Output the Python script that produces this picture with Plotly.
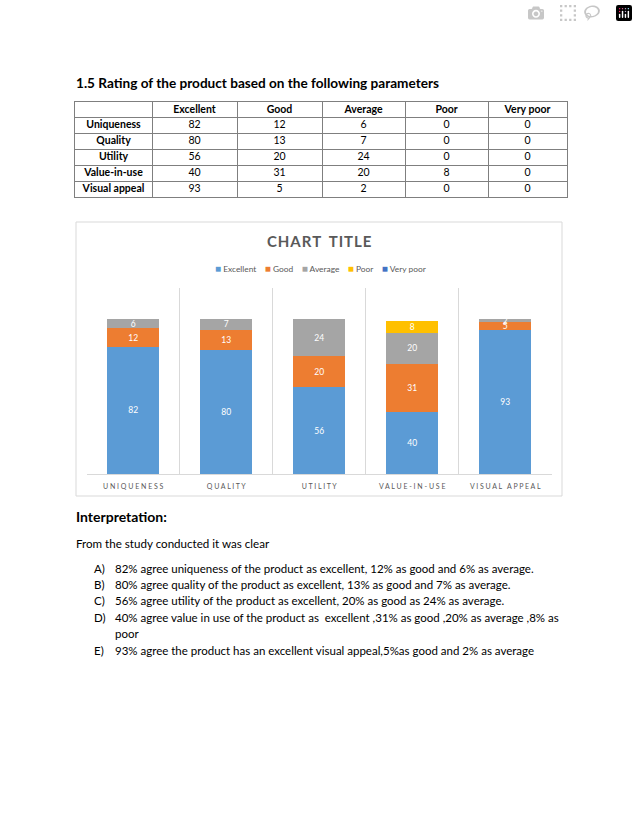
import plotly.graph_objects as go

# ---------------- data ----------------
categories = ["Uniqueness", "Quality", "Utility", "Value-in-use", "Visual appeal"]
series_names = ["Excellent", "Good", "Average", "Poor", "Very poor"]
excellent = [82, 80, 56, 40, 93]
good = [12, 13, 20, 31, 5]
average = [6, 7, 24, 20, 2]
poor = [0, 0, 0, 8, 0]
very_poor = [0, 0, 0, 0, 0]
tick_labels = ["U N I Q U E N E S S", "Q U A L I T Y", "U T I L I T Y",
               "V A L U E - I N - U S E", "V I S U A L   A P P E A L"]
series_colors = ["#5B9BD5", "#ED7D31", "#A5A5A5", "#FFC000", "#4472C4"]
table_col_widths = [77, 85, 85, 83, 83, 79]
chart_title = "CHART TITLE"

series_values = [excellent, good, average, poor, very_poor]

W, H = 638, 826
FONT = "Lato"


def px(x):
    return x / W


def py(y):
    return 1 - y / H


fig = go.Figure()

# ---------------- table (drawn on its own axes) ----------------
bounds = [0]
for w in table_col_widths:
    bounds.append(bounds[-1] + w)
centers = [(bounds[i] + bounds[i + 1]) / 2 for i in range(len(table_col_widths))]
n_rows = len(categories) + 1
row_centers = [r + 0.5 for r in range(n_rows)]

table_cols = [[""] + [f"<b>{c}</b>" for c in categories]]
for name, vals in zip(series_names, series_values):
    table_cols.append([f"<b>{name}</b>"] + [str(v) for v in vals])

for cx, col in zip(centers, table_cols):
    fig.add_trace(go.Scatter(
        x=[cx] * n_rows, y=row_centers, text=col, mode="text",
        textposition="middle center",
        textfont=dict(family=FONT, size=10.5, color="#000000"),
        xaxis="x2", yaxis="y2", showlegend=False, hoverinfo="skip",
    ))

# ---------------- stacked bars ----------------
for name, vals, col in zip(series_names, series_values, series_colors):
    fig.add_trace(go.Bar(
        x=categories, y=vals, name=name, marker=dict(color=col, line=dict(width=0)),
        text=[str(v) if v else "" for v in vals],
        textposition="inside", insidetextanchor="middle", constraintext="none",
        textangle=0, textfont=dict(family=FONT, size=8.5, color="white"),
        xaxis="x", yaxis="y", showlegend=False, hoverinfo="skip",
    ))

TABLE_LINE = "#7F7F7F"
fig.update_layout(
    width=W, height=H, margin=dict(l=0, r=0, t=0, b=0),
    paper_bgcolor="white", plot_bgcolor="white",
    barmode="stack", bargap=0.44,
    font=dict(family=FONT, color="#000000"),
    xaxis=dict(domain=[px(86.7), px(551.7)], type="category",
               tickvals=categories, ticktext=tick_labels, tickson="boundaries",
               showgrid=True, gridcolor="#D9D9D9", gridwidth=1,
               showline=True, linecolor="#D9D9D9", linewidth=1, ticks="",
               ticklabelstandoff=6,
               tickfont=dict(family=FONT, size=7, color="#595959"), fixedrange=True),
    yaxis=dict(domain=[py(474), py(288)], range=[0, 120], showgrid=False,
               showticklabels=False, zeroline=False, showline=False, fixedrange=True),
    xaxis2=dict(domain=[px(75), px(567)], range=[0, bounds[-1]], anchor="y2",
                tickvals=bounds, showgrid=True, gridcolor=TABLE_LINE, gridwidth=1,
                showline=True, mirror=True, linecolor=TABLE_LINE, linewidth=1,
                showticklabels=False, ticks="", zeroline=False, fixedrange=True),
    yaxis2=dict(domain=[py(197), py(102)], range=[n_rows, 0], anchor="x2",
                tickvals=list(range(n_rows + 1)), showgrid=True, gridcolor=TABLE_LINE, gridwidth=1,
                showline=True, mirror=True, linecolor=TABLE_LINE, linewidth=1,
                showticklabels=False, ticks="", zeroline=False, fixedrange=True),
    showlegend=False,
)

# chart frame
fig.add_shape(type="rect", xref="paper", yref="paper",
              x0=px(76), x1=px(562), y0=py(496), y1=py(222),
              line=dict(color="#D9D9D9", width=1), fillcolor="rgba(0,0,0,0)", layer="below")

# chart title (slightly letter-spaced, as in the original)
spaced_title = "\u2002".join("\u200a".join(word) for word in chart_title.split(" "))
fig.add_annotation(xref="paper", yref="paper", x=px(319), y=py(241), text=f"<b>{spaced_title}</b>",
                   showarrow=False, xanchor="center", yanchor="middle",
                   font=dict(family=FONT, size=15, color="#595959"))

# legend built from series names / colours
legend_text = "\u2003 ".join(
    f"<span style='color:{c};font-size:10px'>■</span> {n}" for n, c in zip(series_names, series_colors))
fig.add_annotation(xref="paper", yref="paper", x=px(320.5), y=py(267.5), text=legend_text,
                   showarrow=False, xanchor="center", yanchor="middle",
                   font=dict(family=FONT, size=8.4, color="#595959"))

# ---------------- page text ----------------
def txt(x, y, s, size, bold=False):
    fig.add_annotation(xref="paper", yref="paper", x=px(x), y=py(y),
                       text=f"<b>{s}</b>" if bold else s, showarrow=False,
                       xanchor="left", yanchor="middle",
                       font=dict(family=FONT, size=size, color="#000000"))

txt(74, 83, "1.5 Rating of the product based on the following parameters", 13.6, bold=True)
txt(74, 516, "Interpretation:", 14, bold=True)
txt(74, 543, "From the study conducted it was clear", 11.6)

items = [
    ("A)", "82% agree uniqueness of the product as excellent, 12% as good and 6% as average.", 568),
    ("B)", "80% agree quality of the product as excellent, 13% as good and 7% as average.", 584),
    ("C)", "56% agree utility of the product as excellent, 20% as good as 24% as average.", 600.5),
    ("D)", "40% agree value in use of the product as  excellent ,31% as good ,20% as average ,8% as", 617),
    ("", "poor", 633.5),
    ("E)", "93% agree the product has an excellent visual appeal,5%as good and 2% as average", 650),
]
for lab, s, y in items:
    if lab:
        txt(92, y, lab, 11.5)
    txt(113, y, s, 11.5)

fig.write_html("out.html", post_script="document.body.style.margin='0';document.body.style.overflow='hidden';")
